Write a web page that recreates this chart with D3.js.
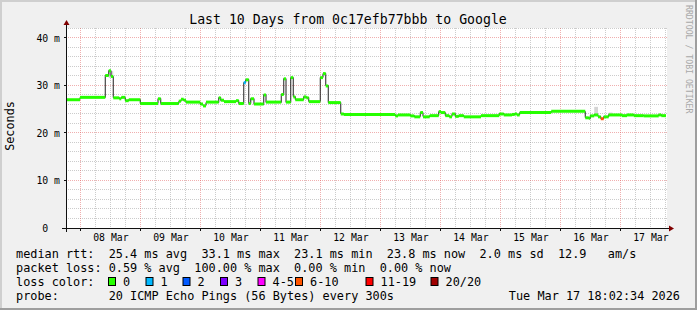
<!DOCTYPE html>
<html>
<head>
<meta charset="utf-8">
<script src="https://cdn.jsdelivr.net/npm/d3@7"></script>
<style>
body { margin: 0; background: #f0f0f0; }
text { font-family: "DejaVu Sans Mono", monospace; white-space: pre; }
</style>
</head>
<body>
<svg id="chart" width="697" height="310"></svg>
<script>
// time window of the graph
const startTime = new Date(2026, 2, 7, 18, 2, 34)
const endTime = new Date(2026, 2, 17, 18, 2, 34)

// median rtt as steps: start of each step (hours after startTime) and value (ms)
const stepHours = [0, 5.6, 15.7, 17.1, 18, 18.9, 21.3, 22.1, 23.7, 25.1,
    29.7, 36.8, 37.9, 45.1, 46, 47.1, 48, 53.7, 54.8, 56,
    61.1, 61.9, 63.2, 68, 69.1, 71.1, 71.9, 73.1, 73.9, 75.2,
    79.1, 80, 86.1, 87.1, 88, 89.9, 90.9, 91.7, 95.1, 96.1,
    97.1, 101.7, 102.8, 103.9, 104.9, 109.9, 111.1, 131.7, 132.8, 137.7,
    139.3, 141.7, 142.8, 145.5, 149.1, 150, 151.7, 153.3, 154.4, 155.7,
    157.1, 159.1, 166, 173.3, 175.1, 178.4, 179.5, 180.4, 181.5, 194.1,
    207.7, 209.1, 209.7, 211.3, 212.8, 213.9, 215.1, 217.1, 222.4, 224.4,
    227.1, 231.1, 237.1, 238.1]
const medianMs = [27.0, 27.5, 32.1, 33.1, 31.9, 27.4, 27.2, 27.5, 26.8, 27.0,
    26.2, 27.2, 26.2, 26.7, 27.1, 26.9, 26.5, 26.1, 25.7, 26.5,
    27.4, 26.9, 26.6, 26.8, 26.2, 30.6, 31.2, 26.2, 27.2, 26.1,
    28.0, 26.5, 28.1, 31.4, 26.5, 31.65, 27.6, 27.0, 27.6, 27.4,
    26.6, 31.65, 32.5, 29.9, 26.4, 24.0, 23.9, 23.6, 23.8, 23.6,
    23.4, 24.3, 23.4, 23.65, 24.5, 24.3, 23.65, 23.4, 24.0, 23.5,
    23.65, 23.4, 23.65, 24.0, 23.8, 23.9, 24.0, 23.8, 24.3, 24.55,
    23.2, 23.1, 23.6, 23.8, 23.4, 23.0, 23.4, 23.8, 23.65, 23.8,
    23.65, 23.6, 23.8, 23.65]
// steps with packet loss (all others are 0)
const lossHours = [71.1, 213.9]
const lossLevel = [1, 5]

// smoke (ping spread) visible above the median
const smokeFrom = [17.1, 211.3, 217.1]
const smokeTo = [18.9, 212.8, 218.6]
const smokeLo = [31.6, 23.8, 23.8]
const smokeHi = [33.0, 25.5, 24.3]

const lossLabels = ['0', '1', '2', '3', '4-5', '6-10', '11-19', '20/20']
const lossColors = ['#26ff00', '#00b8ff', '#0059ff', '#7e00ff', '#ff00ff', '#ff5500', '#ff0000', '#a00000']
const yTicks = [0, 10, 20, 30, 40]

const legendLines = [
    'median rtt:  25.4 ms avg  33.1 ms max  23.1 ms min  23.8 ms now  2.0 ms sd  12.9   am/s',
    'packet loss: 0.59 % avg  100.00 % max  0.00 % min  0.00 % now',
    'loss color:',
    'probe:       20 ICMP Echo Pings (56 Bytes) every 300s'
]
const stamp = 'Tue Mar 17 18:02:34 2026'

const W = 697, H = 310
const plot = {left: 66, right: 666, top: 28, bottom: 228}
const svg = d3.select('#chart')
const crisp = v => Math.floor(v) + .5

// background and 3d border
svg.append('rect').attr('width', W).attr('height', H).attr('fill', '#f0f0f0')
svg.append('path').attr('d', `M0,${H}V0H${W}`).attr('fill', 'none')
    .attr('stroke', '#cfcfcf').attr('stroke-width', 4)
svg.append('path').attr('d', `M0,${H}H${W}V0`).attr('fill', 'none')
    .attr('stroke', '#9e9e9e').attr('stroke-width', 4)
svg.append('rect').attr('x', plot.left).attr('y', plot.top)
    .attr('width', plot.right - plot.left + 1).attr('height', plot.bottom - plot.top)
    .attr('fill', '#fff')

const x = d3.scaleTime().domain([startTime, endTime]).range([plot.left, plot.right])
const y = d3.scaleLinear().domain([0, 42.1]).range([plot.bottom, plot.top])
const hourToDate = h => new Date(+startTime + h * 3600e3)

// grid
const grid = svg.append('g').attr('stroke-dasharray', '1,1').attr('stroke-width', 1)
const minorY = d3.range(2, 42.1, 2).filter(v => v % 10 !== 0)
grid.selectAll('.gy').data(minorY).join('line')
    .attr('x1', plot.left).attr('x2', plot.right + 1)
    .attr('y1', d => crisp(y(d))).attr('y2', d => crisp(y(d)))
    .attr('stroke', 'rgba(143,143,143,0.46)')
const sixHours = d3.timeHour.every(6).range(startTime, endTime).filter(d => d.getHours() !== 0)
grid.selectAll('.gx').data(sixHours).join('line')
    .attr('x1', d => crisp(x(d))).attr('x2', d => crisp(x(d)))
    .attr('y1', plot.top).attr('y2', plot.bottom)
    .attr('stroke', 'rgba(143,143,143,0.46)')
grid.selectAll('.my').data(yTicks.filter(d => d > 0)).join('line')
    .attr('x1', plot.left).attr('x2', plot.right + 1)
    .attr('y1', d => crisp(y(d))).attr('y2', d => crisp(y(d)))
    .attr('stroke', 'rgba(222,80,80,0.46)')
const days = d3.timeDay.range(startTime, endTime)
grid.selectAll('.mx').data(days).join('line')
    .attr('x1', d => crisp(x(d))).attr('x2', d => crisp(x(d)))
    .attr('y1', plot.top).attr('y2', plot.bottom)
    .attr('stroke', 'rgba(222,80,80,0.46)')

// smoke
svg.append('g').selectAll('rect').data(smokeFrom).join('rect')
    .attr('x', (d, i) => x(hourToDate(d)))
    .attr('width', (d, i) => x(hourToDate(smokeTo[i])) - x(hourToDate(d)))
    .attr('y', (d, i) => y(smokeHi[i]))
    .attr('height', (d, i) => y(smokeLo[i]) - y(smokeHi[i]))
    .attr('fill', '#d4d4d4')

// median line
const steps = stepHours.map((h, i) => ({
    t0: hourToDate(h),
    t1: hourToDate(i < stepHours.length - 1 ? stepHours[i + 1] : 240),
    v: medianMs[i],
    loss: lossHours.indexOf(h) >= 0 ? lossLevel[lossHours.indexOf(h)] : 0
}))
const stepLine = d3.line().curve(d3.curveStepAfter).x(d => d[0]).y(d => d[1])
const pts = steps.map(d => [x(d.t0), crisp(y(d.v))])
pts.push([x(endTime), crisp(y(steps[steps.length - 1].v))])
svg.append('path').attr('d', stepLine(pts)).attr('fill', 'none')
    .attr('stroke', '#202020').attr('stroke-width', 1)
svg.append('g').selectAll('line').data(steps).join('line')
    .attr('x1', d => x(d.t0)).attr('x2', d => x(d.t1))
    .attr('y1', d => y(d.v)).attr('y2', d => y(d.v))
    .attr('stroke', d => lossColors[d.loss]).attr('stroke-width', 3)

// axes
const axis = svg.append('g').attr('stroke', '#101010').attr('stroke-width', 1)
axis.append('line').attr('x1', plot.left - 4).attr('x2', plot.right + 4)
    .attr('y1', crisp(plot.bottom)).attr('y2', crisp(plot.bottom))
axis.append('line').attr('x1', crisp(plot.left)).attr('x2', crisp(plot.left))
    .attr('y1', plot.bottom + 4).attr('y2', plot.top - 4)
axis.selectAll('.ty').data(yTicks.filter(d => d > 0)).join('line')
    .attr('x1', plot.left - 2).attr('x2', plot.left)
    .attr('y1', d => crisp(y(d))).attr('y2', d => crisp(y(d)))
axis.selectAll('.tx').data(days).join('line')
    .attr('x1', d => crisp(x(d))).attr('x2', d => crisp(x(d)))
    .attr('y1', plot.bottom).attr('y2', plot.bottom + 3)
svg.append('path').attr('fill', '#800000')
    .attr('d', `M${plot.left - 2.5},${plot.top - 3}L${plot.left + 3.5},${plot.top - 3}L${plot.left + .5},${plot.top - 8}Z`)
svg.append('path').attr('fill', '#800000')
    .attr('d', `M${plot.right + 3},${plot.bottom - 2.5}L${plot.right + 3},${plot.bottom + 3.5}L${plot.right + 8},${plot.bottom + .5}Z`)

// tick labels
svg.append('g').selectAll('text').data(yTicks).join('text')
    .attr('x', 60).attr('y', d => y(d) + 3.6)
    .attr('text-anchor', 'end').attr('font-size', '9.8px')
    .text(d => d === 0 ? '0  ' : d + ' m')
svg.append('g').selectAll('text').data(days).join('text')
    .attr('x', d => x(d3.timeHour.offset(d, 12))).attr('y', 241)
    .attr('text-anchor', 'middle').attr('font-size', '9.8px')
    .text(d3.timeFormat('%d %b'))

// titles
svg.append('text').attr('x', 348).attr('y', 23.5).attr('text-anchor', 'middle')
    .attr('font-size', '13.2px').text('Last 10 Days from 0c17efb77bbb to Google')
svg.append('text').attr('transform', 'translate(14,126) rotate(-90)')
    .attr('text-anchor', 'middle').attr('font-size', '11.8px').text('Seconds')
svg.append('text').attr('transform', 'translate(686,5) rotate(90)')
    .attr('font-size', '8.2px').attr('fill', '#a8a8a8').text('RRDTOOL / TOBI OETIKER')

// legend
const legendY = [257.5, 271.7, 286, 300.2]
svg.append('g').selectAll('text').data(legendLines).join('text')
    .attr('x', 16).attr('y', (d, i) => legendY[i]).attr('font-size', '11.85px').text(d => d)
const swatchX = [108, 145.5, 182.5, 220, 257.5, 295, 365.5, 430.5]
const sw = svg.append('g').selectAll('g').data(lossLabels).join('g')
    .attr('transform', (d, i) => `translate(${swatchX[i]},0)`)
sw.append('rect').attr('x', .5).attr('y', 277.5).attr('width', 7).attr('height', 8)
    .attr('fill', (d, i) => lossColors[i]).attr('stroke', '#000')
sw.append('text').attr('x', 15).attr('y', legendY[2]).attr('font-size', '11.85px').text(d => d)
svg.append('text').attr('x', 680).attr('y', legendY[3]).attr('text-anchor', 'end')
    .attr('font-size', '11.85px').text(stamp)
</script>
</body>
</html>
